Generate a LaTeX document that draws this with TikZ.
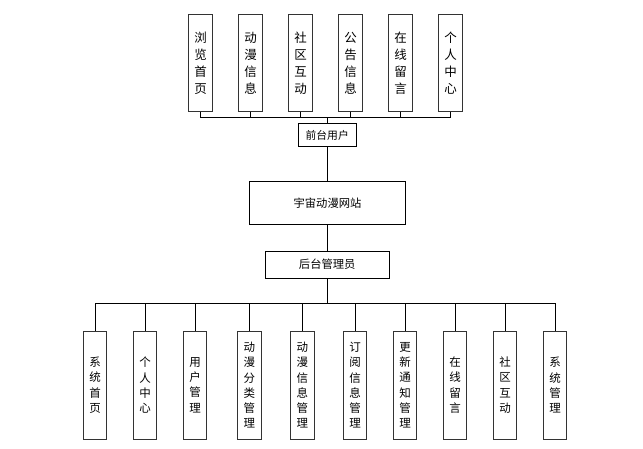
\documentclass[tikz,border=0pt]{standalone}
\usepackage{fontspec}
\setmainfont{Noto Sans CJK SC}
\begin{document}
\begin{tikzpicture}[x=1pt,y=-1pt,
  conn/.style={draw=black,line width=1pt},
  topbox/.style={draw=black!80,line width=1pt,fill=white,minimum width=23.5pt,minimum height=96.5pt,inner sep=0pt,align=center,font=\fontsize{12.5}{17}\selectfont},
  botbox/.style={draw=black!80,line width=1pt,fill=white,minimum width=23.5pt,minimum height=108.3pt,inner sep=0pt,align=center,font=\fontsize{11.5}{15.2}\selectfont},
  hbox/.style={draw=black,line width=1pt,fill=white,inner sep=0pt,font=\fontsize{11.3}{13}\selectfont}]
\useasboundingbox (0,0) rectangle (643,449);
% top boxes
\node[topbox] (t1) at (200.5,62.8) {浏\\览\\首\\页};
\node[topbox] (t2) at (250.5,62.8) {动\\漫\\信\\息};
\node[topbox] (t3) at (300.5,62.8) {社\\区\\互\\动};
\node[topbox] (t4) at (350.5,62.8) {公\\告\\信\\息};
\node[topbox] (t5) at (400.5,62.8) {在\\线\\留\\言};
\node[topbox] (t6) at (450.5,62.8) {个\\人\\中\\心};
% middle boxes
\node[hbox,minimum width=57.7pt,minimum height=23pt,font=\fontsize{10.8}{12}\selectfont] (fu) at (327.2,135.5) {前台用户};
\node[hbox,minimum width=155.6pt,minimum height=42.7pt] (site) at (327.5,202.7) {宇宙动漫网站};
\node[hbox,minimum width=124.3pt,minimum height=27.3pt] (adm) at (327.2,264.7) {后台管理员};
% bottom boxes
\node[botbox] (b1) at (95,385.2) {系\\统\\首\\页};
\node[botbox] (b2) at (145,385.2) {个\\人\\中\\心};
\node[botbox] (b3) at (195,385.2) {用\\户\\管\\理};
\node[botbox] (b4) at (249.3,385.2) {动\\漫\\分\\类\\管\\理};
\node[botbox] (b5) at (302.3,385.2) {动\\漫\\信\\息\\管\\理};
\node[botbox] (b6) at (355,385.2) {订\\阅\\信\\息\\管\\理};
\node[botbox] (b7) at (405,385.2) {更\\新\\通\\知\\管\\理};
\node[botbox] (b8) at (455,385.2) {在\\线\\留\\言};
\node[botbox] (b9) at (505,385.2) {社\\区\\互\\动};
\node[botbox] (b10) at (555,385.2) {系\\统\\管\\理};
% top bus
\coordinate (tbus) at (327.2,117.3);
\foreach \i in {1,...,6} {\draw[conn] (t\i.south) |- (tbus);}
\draw[conn] (tbus) -- (fu.north);
\draw[conn] (fu.south) -- (fu.south |- site.north);
\draw[conn] (site.south -| adm.north) -- (adm.north);
% bottom bus
\coordinate (bbus) at (327.2,303.3);
\draw[conn] (adm.south) -- (bbus);
\foreach \i in {1,...,10} {\draw[conn] (b\i.north) |- (bbus);}
\end{tikzpicture}
\end{document}
